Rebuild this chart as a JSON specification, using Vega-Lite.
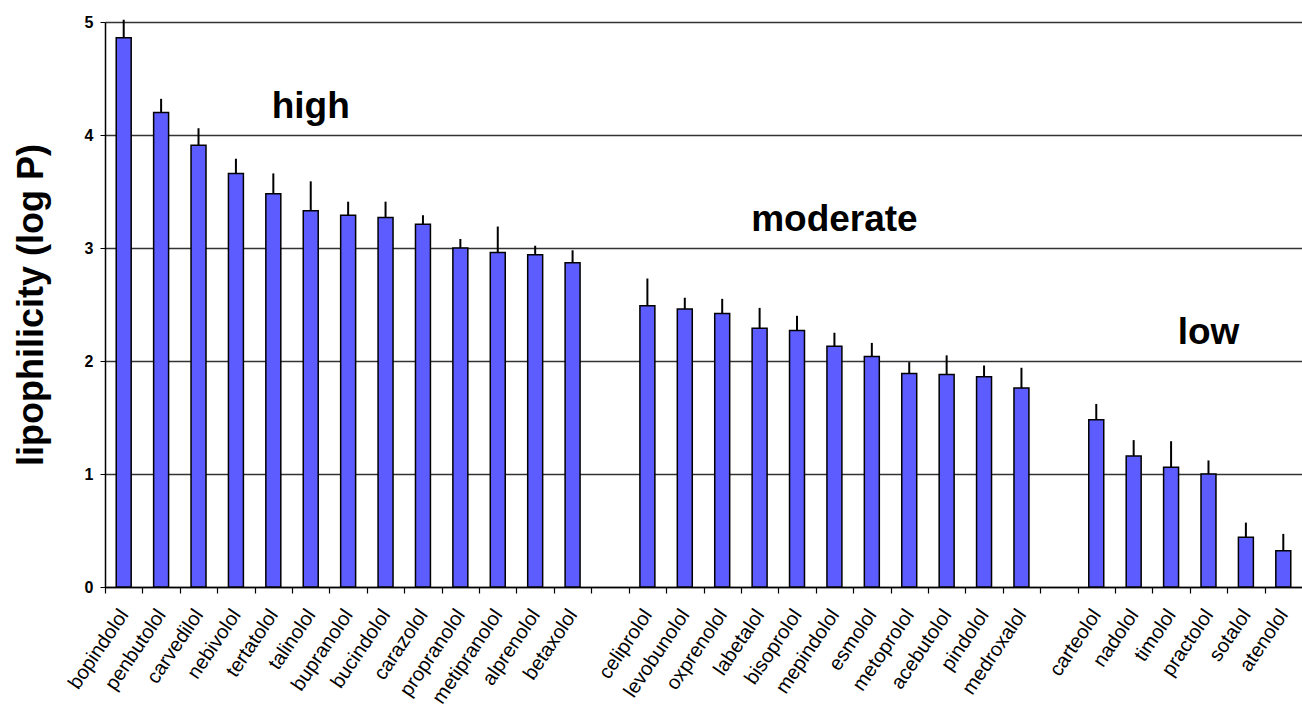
{
  "$schema": "https://vega.github.io/schema/vega-lite/v6.json",
  "autosize": "none",
  "padding": {"left": 105, "top": 22, "right": 0, "bottom": 117},
  "width": 1197,
  "height": 565,
  "background": "white",
  "config": {
    "font": "Liberation Sans",
    "view": {"stroke": null}
  },
  "datasets": {
    "drugs": [
      {"drug": "bopindolol", "logP": 4.86, "hi": 5.02},
      {"drug": "penbutolol", "logP": 4.20, "hi": 4.32},
      {"drug": "carvedilol", "logP": 3.91, "hi": 4.06},
      {"drug": "nebivolol", "logP": 3.66, "hi": 3.79},
      {"drug": "tertatolol", "logP": 3.48, "hi": 3.66},
      {"drug": "talinolol", "logP": 3.33, "hi": 3.59},
      {"drug": "bupranolol", "logP": 3.29, "hi": 3.41},
      {"drug": "bucindolol", "logP": 3.27, "hi": 3.41},
      {"drug": "carazolol", "logP": 3.21, "hi": 3.29},
      {"drug": "propranolol", "logP": 3.00, "hi": 3.08},
      {"drug": "metipranolol", "logP": 2.96, "hi": 3.19},
      {"drug": "alprenolol", "logP": 2.94, "hi": 3.02},
      {"drug": "betaxolol", "logP": 2.87, "hi": 2.98},
      {"drug": "celiprolol", "logP": 2.49, "hi": 2.73},
      {"drug": "levobunolol", "logP": 2.46, "hi": 2.56},
      {"drug": "oxprenolol", "logP": 2.42, "hi": 2.55},
      {"drug": "labetalol", "logP": 2.29, "hi": 2.47},
      {"drug": "bisoprolol", "logP": 2.27, "hi": 2.40},
      {"drug": "mepindolol", "logP": 2.13, "hi": 2.25},
      {"drug": "esmolol", "logP": 2.04, "hi": 2.16},
      {"drug": "metoprolol", "logP": 1.89, "hi": 1.99},
      {"drug": "acebutolol", "logP": 1.88, "hi": 2.05},
      {"drug": "pindolol", "logP": 1.86, "hi": 1.96},
      {"drug": "medroxalol", "logP": 1.76, "hi": 1.94},
      {"drug": "carteolol", "logP": 1.48, "hi": 1.62},
      {"drug": "nadolol", "logP": 1.16, "hi": 1.30},
      {"drug": "timolol", "logP": 1.06, "hi": 1.29},
      {"drug": "practolol", "logP": 1.00, "hi": 1.12},
      {"drug": "sotalol", "logP": 0.44, "hi": 0.57},
      {"drug": "atenolol", "logP": 0.32, "hi": 0.47}
    ],
    "groups": [
      {"drug": "talinolol", "y": 4.25, "label": "high"},
      {"drug": "mepindolol", "y": 3.25, "label": "moderate"},
      {"drug": "practolol", "y": 2.25, "label": "low"}
    ]
  },
  "layer": [
    {
      "data": {"name": "drugs"},
      "mark": {"type": "bar", "fill": "#5c5cff", "stroke": "black", "strokeWidth": 1.5},
      "encoding": {
        "x": {
          "field": "drug",
          "type": "nominal",
          "scale": {
            "domain": ["bopindolol", "penbutolol", "carvedilol", "nebivolol", "tertatolol", "talinolol", "bupranolol", "bucindolol", "carazolol", "propranolol", "metipranolol", "alprenolol", "betaxolol", "gap1", "celiprolol", "levobunolol", "oxprenolol", "labetalol", "bisoprolol", "mepindolol", "esmolol", "metoprolol", "acebutolol", "pindolol", "medroxalol", "gap2", "carteolol", "nadolol", "timolol", "practolol", "sotalol", "atenolol"],
            "paddingInner": 0.6,
            "paddingOuter": 0.3
          },
          "axis": {
            "title": null,
            "labelExpr": "slice(datum.value, 0, 3) == 'gap' ? '' : datum.value",
            "labelAngle": -56,
            "labelAlign": "right",
            "labelBaseline": "middle",
            "labelFontSize": 20,
            "labelColor": "black",
            "labelPadding": 18,
            "labelOverlap": false,
            "tickOffset": -18.7,
            "labelOffset": 18.7,
            "tickColor": "black",
            "tickSize": 6,
            "tickWidth": 1.2,
            "domainColor": "black",
            "domainWidth": 1.5,
            "grid": false
          }
        },
        "y": {
          "field": "logP",
          "type": "quantitative",
          "scale": {"domain": [0, 5], "nice": false},
          "axis": {
            "title": "lipophilicity (log P)",
            "titleFontSize": 36,
            "titleFontWeight": "bold",
            "titleColor": "black",
            "titlePadding": 34,
            "values": [0, 1, 2, 3, 4, 5],
            "format": "d",
            "labelFontSize": 16,
            "labelFontWeight": "bold",
            "labelColor": "black",
            "labelPadding": 7,
            "tickColor": "black",
            "tickSize": 5,
            "domainColor": "black",
            "domainWidth": 1.5,
            "grid": true,
            "gridColor": "#333333",
            "gridWidth": 1.5
          }
        }
      }
    },
    {
      "data": {"name": "drugs"},
      "mark": {"type": "rule", "color": "black", "strokeWidth": 2},
      "encoding": {
        "x": {"field": "drug", "type": "nominal"},
        "y": {"field": "logP", "type": "quantitative"},
        "y2": {"field": "hi"}
      }
    },
    {
      "data": {"name": "groups"},
      "mark": {"type": "text", "fontSize": 37, "fontWeight": "bold", "color": "black", "dx": 0},
      "encoding": {
        "x": {"field": "drug", "type": "nominal"},
        "y": {"field": "y", "type": "quantitative"},
        "text": {"field": "label"}
      }
    }
  ]
}
